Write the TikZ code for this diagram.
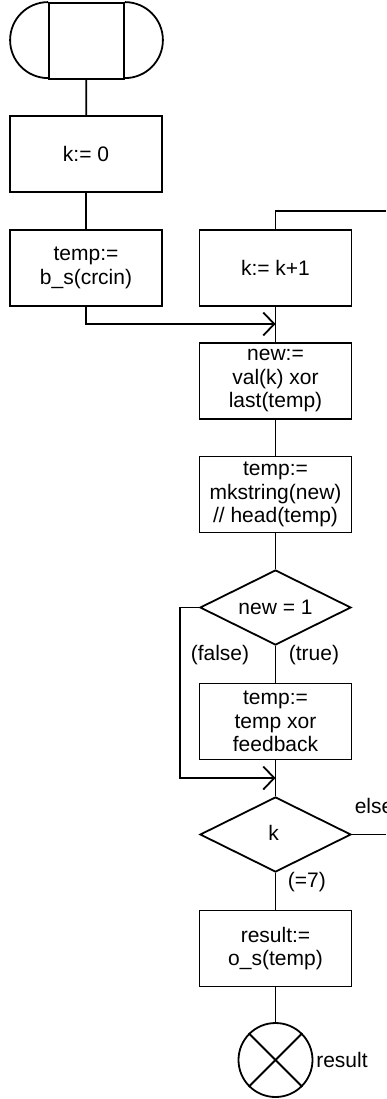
\documentclass[tikz,border=0pt]{standalone}
\usepackage{fontspec}
\setmainfont{Liberation Sans}
\usetikzlibrary{shapes.geometric,arrows.meta}

\begin{document}
\begin{tikzpicture}[x=1pt,y=-1pt,line width=1.8pt,
    font=\fontsize{21}{23.5}\selectfont,
    box/.style={rectangle,draw,minimum width=152pt,minimum height=76pt,inner sep=2pt,align=center},
    test/.style={diamond,draw,minimum width=151pt,minimum height=75pt,inner sep=0pt,aspect=2},
    feedin/.style={-{Straight Barb[length=11pt,width=23pt]}},
    tag/.style={inner sep=2pt}]
        \useasboundingbox (0,0) rectangle (386,1099);
        % Start
        \node[draw,minimum width=75pt,minimum height=76pt] (start) at (86.5,41) {};
        \draw (start.north west) arc[start angle=90,end angle=270,radius=38pt];
        \draw (start.north east) arc[start angle=90,end angle=-90,radius=38pt];
        % Steps
        \node[box] (k0) at (86,154) {k:= 0};
        \node[box] (init) at (86,268) {temp:=\\b\_s(crcin)};
        \node[box] (inc) at (275.5,268) {k:= k+1};
        \node[box] (new) at (275.5,381) {new:=\\val(k) xor\\last(temp)};
        \node[box] (shift) at (275.5,494.5) {temp:=\\mkstring(new)\\// head(temp)};
        \node[test] (bit) at (275.5,607.5) {new = 1};
        \node[box] (fb) at (275.5,721.5) {temp:=\\temp xor\\feedback};
        \node[test] (count) at (275.5,834.5) {\raisebox{4pt}{k}\hspace*{4pt}};
        \node[box] (res) at (275.5,948.5) {result:=\\o\_s(temp)};
        % End
        \node[circle,draw,minimum size=74pt,inner sep=0pt,label={[tag]right:result}] (out) at (275.5,1060) {};
        \draw (out.45) -- (out.225);
        \draw (out.135) -- (out.315);
        % Joins and loop ends
        \coordinate (back) at (386,211);
        \coordinate (merge) at (275.5,324);
        \coordinate (rejoin) at (275.5,778);
        \coordinate (exit) at (386,834.5);
        % Flow
        \draw (start) -- (k0);
        \draw (k0) -- (init);
        \draw[feedin] (init.south) |- (merge);
        \draw (inc.north) |- (back);
        \draw (inc) -- (new);
        \draw (new) -- (shift);
        \draw (shift) -- (bit);
        \draw (bit.south) -- (fb.north)
            node[tag,pos=0.26,anchor=east,xshift=-23.5pt] {(false)}
            node[tag,pos=0.26,anchor=west,xshift=10.5pt] {(true)};
        \draw[feedin] (bit.west) -- ++(-19,0) |- (rejoin);
        \draw (fb) -- (count);
        \draw (count.east) -- (exit) node[tag,at start,anchor=base west,yshift=21.5pt] {else};
        \draw (count.south) -- (res.north) node[tag,pos=0.26,anchor=west,xshift=9.5pt] {(=7)};
        \draw (res) -- (out);
      \end{tikzpicture}
\end{document}
